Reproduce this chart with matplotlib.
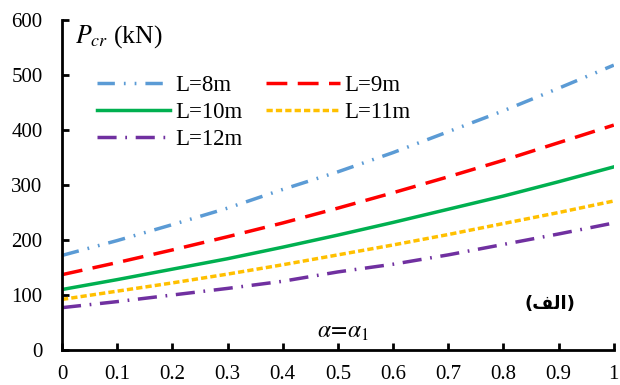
import matplotlib
matplotlib.use('Agg')
import matplotlib.pyplot as plt

# alpha/alpha1 ratio and critical load (kN) for each span length
x = [0.0, 0.1, 0.2, 0.3, 0.4, 0.5, 0.6, 0.7, 0.8, 0.9, 1.0]
p_8m = [172, 199, 228, 258, 292, 324, 359, 397, 435, 476, 518]
p_9m = [137, 159, 182, 206, 231, 258, 286, 315, 345, 377, 409]
p_10m = [110, 128, 147, 166, 187, 209, 232, 256, 280, 306, 333]
p_11m = [92, 107, 122, 138, 155, 173, 191, 210, 230, 250, 271]
p_12m = [77, 88, 100, 112, 125, 142, 156, 173, 192, 211, 231]
labels = ['L=8m', 'L=9m', 'L=10m', 'L=11m', 'L=12m']
xticks = [0, 0.1, 0.2, 0.3, 0.4, 0.5, 0.6, 0.7, 0.8, 0.9, 1]
yticks = [0, 100, 200, 300, 400, 500, 600]

plt.rcParams['font.family'] = ['Liberation Serif', 'DejaVu Serif']
plt.rcParams['mathtext.fontset'] = 'stix'

fig = plt.figure(figsize=(6.2, 3.85), dpi=100)
ax = fig.add_axes([0.1, 0.0909, 0.890, 0.857])

lw = 2.5
series = [
    (p_8m, '#5B9BD5', (0, (5, 2.6, 0.5, 2.6, 0.5, 2.6))),
    (p_9m, '#FF0000', (0, (6, 3))),
    (p_10m, '#00B050', '-'),
    (p_11m, '#FFC000', (0, (1.8, 0.9))),
    (p_12m, '#7030A0', (0, (5.5, 2.5, 0.5, 2.5))),
]
handles = []
for (vals, col, ls), lab in zip(series, labels):
    h, = ax.plot(x, vals, color=col, lw=lw, linestyle=ls, label=lab)
    handles.append(h)

ax.set_xlim(0, 1)
ax.set_ylim(0, 600)
ax.set_xticks(xticks)
ax.set_xticklabels([('%g' % t) for t in xticks])
ax.set_yticks(yticks)
ax.tick_params(direction='in', length=5, width=2, labelsize=15, pad=11)
ax.tick_params(axis='y', pad=14)
for s in ['top', 'right']:
    ax.spines[s].set_visible(False)
for s in ['left', 'bottom']:
    ax.spines[s].set_linewidth(2)

# legend: column-wise fill, so order as 8,10,12 | 9,11
order = [0, 2, 4, 1, 3]
ax.legend([handles[i] for i in order], [labels[i] for i in order], ncol=2,
          loc='upper left', bbox_to_anchor=(0.047, 0.86), frameon=False,
          fontsize=16.5, handlelength=3.2, handletextpad=0.2,
          columnspacing=1.05, labelspacing=0.25, borderaxespad=0)

ax.text(0.023, 0.99, r'$P_{cr}$ (kN)', transform=ax.transAxes, fontsize=18.5,
        ha='left', va='top')
ax.text(0.51, 0.054, r'$\mathit{\alpha\!=\!\alpha_1}$', transform=ax.transAxes,
        fontsize=17, ha='center', va='center')
ax.text(0.885, 0.14, '(\uFED2\uFEDF\uFE8D)', transform=ax.transAxes,
        fontsize=13, fontweight='bold', family=['DejaVu Sans'],
        ha='center', va='center')

fig.savefig('out.png', dpi=100)
